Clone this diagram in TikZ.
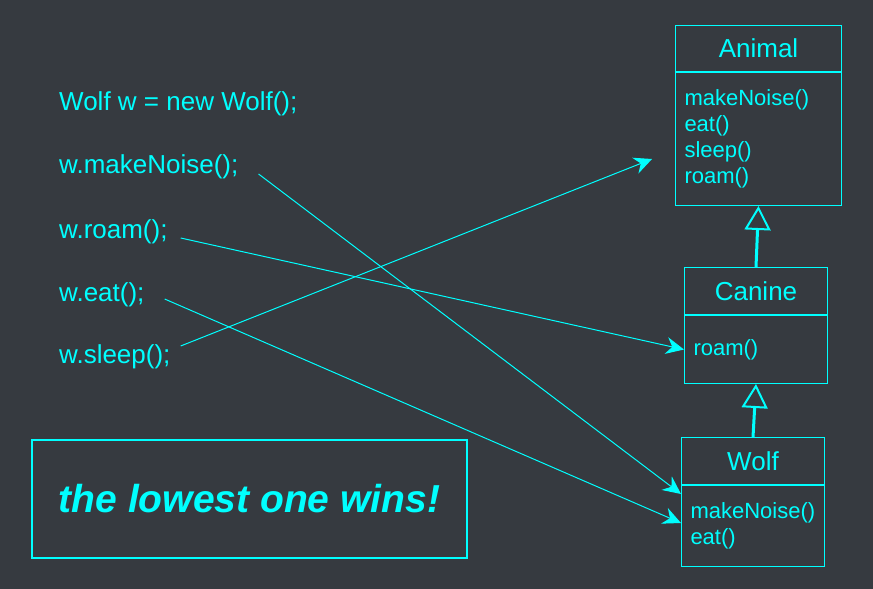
\documentclass[tikz,border=0pt]{standalone}
\usepackage{fontspec}
\setmainfont{Liberation Sans}
\usetikzlibrary{arrows.meta,calc}
\definecolor{BgClr}{RGB}{54,58,64}
\definecolor{LineClr}{RGB}{0,255,255}

\tikzset{
  code/.style={anchor=west,inner sep=0pt,text=LineClr,font=\fontsize{26}{30}\selectfont},
  clshead/.style={draw=LineClr,line width=1pt,text=LineClr,anchor=north west,font=\fontsize{26}{30}\selectfont},
  clsbody/.style={draw=LineClr,line width=1pt,text=LineClr,anchor=north,align=left,inner xsep=9pt,font=\fontsize{22}{26}\selectfont},
  call/.style={draw=LineClr,line width=1pt,-{Stealth[length=18pt,width=17pt,inset=6pt,fill=LineClr]}},
  inherit/.style={draw=LineClr,line width=3pt,-{Triangle[open,length=24pt,width=26pt,line width=2pt]}}
}

\begin{document}
\begin{tikzpicture}[x=1pt,y=-1pt]
\fill[BgClr] (0,0) rectangle (873,589);
\useasboundingbox (0,0) rectangle (873,589);

% classes
\node[clshead,minimum width=166,minimum height=46] (animh) at (675,25) {Animal};
\node[clsbody,minimum height=133,text width=148] (animm) at (animh.south) {makeNoise()\\eat()\\sleep()\\roam()};

\node[clshead,minimum width=143,minimum height=47] (canh) at (684,267) {Canine};
\node[clsbody,minimum height=68,text width=125] (canm) at (canh.south) {roam()};

\node[clshead,minimum width=143,minimum height=47] (wolfh) at (681,437) {Wolf};
\node[clsbody,minimum height=81,text width=125] (wolfm) at (wolfh.south) {makeNoise()\\eat()};

\draw[inherit] (canh.north) -- (animm.south);
\draw[inherit] (wolfh.north) -- (canm.south);

% code lines
\node[code] (decl) at (59,104) {Wolf w = new Wolf();};
\node[code] (noise) at (59,167) {w.makeNoise();};
\node[code] (roam) at (59,232) {w.roam();};
\node[code] (eat) at (59,295) {w.eat();};
\node[code] (sleep) at (59,357) {w.sleep();};

\coordinate (sleeptip) at ([xshift=-23pt,yshift=-87pt]animm.north west);

\draw[call] ([xshift=20pt,yshift=-7pt]noise.east) -- ([yshift=-9pt]wolfm.north west);
\draw[call] ([xshift=13pt,yshift=-6pt]roam.east) -- (canm.west);
\draw[call] ([xshift=20pt,yshift=-4pt]eat.east) -- ([yshift=-38pt]wolfm.north west);
\draw[call] ([xshift=10pt,yshift=11pt]sleep.east) -- (sleeptip);

% note
\node[draw=LineClr,line width=2pt,minimum width=435,minimum height=118,text=LineClr,
  font=\fontsize{39}{44}\bfseries\itshape\selectfont] (note) at (249.5,498.5) {the lowest one wins!};

\end{tikzpicture}
\end{document}
